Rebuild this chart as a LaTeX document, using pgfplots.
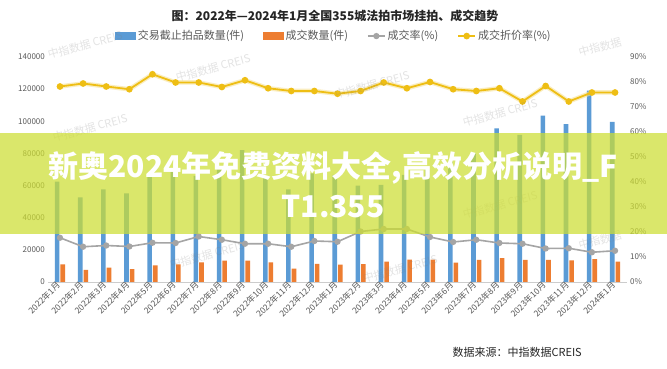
\documentclass[border=0pt]{standalone}
\usepackage{fontspec}
\setmainfont{Noto Sans CJK SC}
\usepackage{pgfplots}
\usepackage{pgfplotstable}
\pgfplotsset{compat=1.18}
\definecolor{cblue}{RGB}{91,155,213}
\definecolor{corange}{RGB}{237,125,49}
\definecolor{cgray}{RGB}{165,165,165}
\definecolor{cyellow}{RGB}{238,190,20}
\definecolor{ctext}{RGB}{89,89,89}
\definecolor{banner}{RGB}{205,222,50}

\pgfplotstableread{
idx blue orange rate disc
0 62400 11000 17.7 78.2
1 52700 7600 14.1 79.4
2 57700 8900 14.6 78.2
3 55200 8000 14.2 77.1
4 66000 10300 15.7 83.1
5 68600 11000 15.6 79.8
6 66000 12200 18.2 79.8
7 70000 13300 16.9 78.0
8 82100 13300 15.3 80.7
9 65000 12200 15.3 77.5
10 57700 8300 14.1 76.4
11 67600 11300 16.4 76.4
12 66600 10800 16.1 75.3
13 60000 11100 20.2 76.4
14 60400 12600 21.2 79.8
15 66600 13900 21.2 77.5
16 70000 13900 18.0 80.0
17 75000 12100 16.0 77.1
18 80000 13800 16.9 76.4
19 95600 14800 15.6 77.5
20 91500 13800 15.3 72.2
21 103500 13800 13.4 78.4
22 98300 13400 13.5 72.2
23 119000 14300 11.9 75.8
24 99700 12600 12.5 75.8
}\data

\begin{document}
\begin{tikzpicture}[x=1pt,y=1pt]
\useasboundingbox (0,0) rectangle (667,369);
\fill[white] (0,0) rectangle (667,369);

\begin{axis}[
  at={(48.4pt,87pt)}, anchor=south west, scale only axis,
  width=578.2pt, height=225pt,
  xmin=-0.5, xmax=24.5, ymin=0, ymax=140000,
  xtick={0,...,24},
  xticklabels={2022年1月,2022年2月,2022年3月,2022年4月,2022年5月,2022年6月,2022年7月,2022年8月,2022年9月,2022年10月,2022年11月,2022年12月,2023年1月,2023年2月,2023年3月,2023年4月,2023年5月,2023年6月,2023年7月,2023年8月,2023年9月,2023年10月,2023年11月,2023年12月,2024年1月},
  ytick={0,20000,40000,60000,80000,100000,120000,140000},
  axis x line*=bottom, axis y line*=left,
  y axis line style={draw=none},
  x axis line style={draw=black!20, line width=0.8pt, -},
  major tick length=0pt,
  scaled y ticks=false,
  /pgf/number format/assume math mode=true,
  yticklabel style={/pgf/number format/fixed, /pgf/number format/1000 sep={}, font=\fontsize{8}{9}\selectfont, text=ctext},
  xticklabel style={rotate=45, anchor=east, font=\fontsize{8.5}{9}\selectfont, text=ctext, inner sep=2pt},
  ybar, bar width=4.6pt,
  clip=false,
]
\addplot[fill=cblue, draw=none, bar shift=-2.8pt] table[x=idx,y=blue]{\data};
\addplot[fill=corange, draw=none, bar shift=2.8pt] table[x=idx,y=orange]{\data};
\end{axis}

\begin{axis}[
  at={(48.4pt,87pt)}, anchor=south west, scale only axis,
  width=578.2pt, height=225pt,
  xmin=-0.5, xmax=24.5, ymin=0, ymax=90,
  ytick={0,10,...,90},
  axis x line=none, axis y line*=right,
  y axis line style={draw=none},
  major tick length=0pt,
  /pgf/number format/assume math mode=true,
  yticklabel={\pgfmathprintnumber{\tick}\%},
  yticklabel style={font=\fontsize{8}{9}\selectfont, text=ctext},
  clip=false,
  legend columns=4,
  legend style={at={(0.494,1.093)}, anchor=center, draw=none, fill=none,
    font=\fontsize{11}{12}\selectfont, text=ctext,
    /tikz/every even column/.append style={column sep=17pt}},
  legend cell align=left,
]
\addlegendimage{legend image code/.code={\fill[cblue] (0pt,-3.5pt) rectangle (20pt,3.5pt);}}
\addlegendentry{交易截止拍品数量(件)}
\addlegendimage{legend image code/.code={\fill[corange] (0pt,-3.5pt) rectangle (20pt,3.5pt);}}
\addlegendentry{成交数量(件)}
\addplot[cgray, line width=1.6pt, mark=*, mark size=2.3pt, mark options={fill=cgray, draw=cgray}] table[x=idx,y=rate]{\data};
\addlegendentry{成交率(\%)}
\addplot[cyellow!45, line width=4.5pt, opacity=0.6, forget plot] table[x=idx,y=disc]{\data};
\addplot[cyellow, line width=1.8pt, mark=*, mark size=2.4pt, mark options={fill=cyellow, draw=cyellow}] table[x=idx,y=disc]{\data};
\addlegendentry{成交折价率(\%)}
\end{axis}

% title
\node[font=\bfseries\fontsize{12}{14}\selectfont, text=black!85] at (335,353) {图：2022年—2024年1月全国355城法拍市场挂拍、成交趋势};

% footer
\node[anchor=west, font=\fontsize{11}{12}\selectfont, text=black!85] at (449,17) {数据来源：中指数据CREIS};

% watermarks
\begin{scope}[every node/.style={font=\fontsize{11}{12}\selectfont, text=gray, opacity=0.22, rotate=15}]
\node at (85,324) {中指数据\ CREIS};
\node at (213,301) {中指数据\ CREIS};
\node at (90,241) {中指数据\ CREIS};
\node at (372,284) {中指数据\ CREIS};
\node at (500,256) {中指数据\ CREIS};
\node at (500,164) {中指数据\ CREIS};
\node at (600,322) {中指数据};
\node at (207,114) {中指数据\ CREIS};
\node at (400,100) {中指数据\ CREIS};
\node at (600,129) {中指数据};
\end{scope}

% overlay banner
\fill[banner, opacity=0.72] (0,135) rectangle (667,236);
\node[text=white, font=\bfseries\fontsize{30}{40}\selectfont, align=center] at (333,184) {新奥2024年免费资料大全,高效分析说明\_F\\T1.355};
\end{tikzpicture}
\end{document}
